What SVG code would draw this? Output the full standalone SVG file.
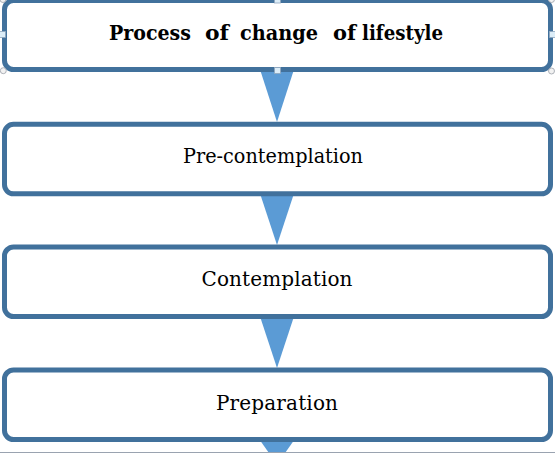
<svg xmlns="http://www.w3.org/2000/svg" width="555" height="455" viewBox="0 0 555 455">
  <style>
    .box { fill: #ffffff; stroke: #41719C; stroke-width: 5; }
    .arrow { fill: #5B9BD5; stroke: none; }
    .label { font-family: "DejaVu Serif", "Liberation Serif", serif; font-size: 20px; fill: #000000; }
    .title { font-family: "DejaVu Serif", "Liberation Serif", serif; font-size: 19.5px; font-weight: bold; fill: #000000; }
    .hsq { fill: #dcedf8; stroke: #8ea6bd; stroke-width: 0.8; }
    .hci { fill: #f2f2f2; stroke: #9aa0a8; stroke-width: 0.8; }
  </style>
  <rect x="0" y="0" width="555" height="455" fill="#ffffff"/>
  <g id="connectors">
    <polygon class="arrow" points="260.5,71 293.5,71 277,122"/>
    <polygon class="arrow" points="260.5,195 293.5,195 277,245"/>
    <polygon class="arrow" points="260.5,318 293.5,318 277,368"/>
    <polygon class="arrow" points="260.5,441 293.5,441 285.4,452.5 268.6,452.5"/>
  </g>
  <g id="node-title">
    <rect class="box" x="4.5" y="0.5" width="546" height="69" rx="9" ry="9"/>
    <text class="title" y="39.8"><tspan x="109" textLength="82" lengthAdjust="spacingAndGlyphs">Process</tspan><tspan x="205" textLength="24" lengthAdjust="spacingAndGlyphs">of</tspan><tspan x="240" textLength="78" lengthAdjust="spacingAndGlyphs">change</tspan><tspan x="333" textLength="23" lengthAdjust="spacingAndGlyphs">of</tspan><tspan x="362" textLength="81" lengthAdjust="spacingAndGlyphs">lifestyle</tspan></text>
  </g>
  <g id="node-precontemplation">
    <rect class="box" x="4.5" y="124.3" width="546" height="69.5" rx="9" ry="9"/>
    <text class="label" x="183" y="162.5" textLength="180" lengthAdjust="spacingAndGlyphs">Pre-contemplation</text>
  </g>
  <g id="node-contemplation">
    <rect class="box" x="4.5" y="247" width="546" height="69.5" rx="9" ry="9"/>
    <text class="label" x="201.5" y="286" textLength="151" lengthAdjust="spacing">Contemplation</text>
  </g>
  <g id="node-preparation">
    <rect class="box" x="4.5" y="370" width="546" height="69.5" rx="9" ry="9"/>
    <text class="label" x="216" y="410" textLength="122" lengthAdjust="spacing">Preparation</text>
  </g>
  <g id="selection-handles">
    <circle class="hci" cx="3" cy="-0.5" r="3"/>
    <circle class="hci" cx="551.5" cy="-0.5" r="3"/>
    <circle class="hci" cx="3.3" cy="70.7" r="3"/>
    <circle class="hci" cx="551.5" cy="71" r="3"/>
    <rect class="hsq" x="274.5" y="-3" width="6" height="6"/>
    <rect class="hsq" x="-0.5" y="31.5" width="6" height="6"/>
    <rect class="hsq" x="549.5" y="31.5" width="6" height="6"/>
    <rect class="hsq" x="274.5" y="67.5" width="6" height="6"/>
  </g>
  <line x1="0" y1="452.5" x2="555" y2="452.5" stroke="#9aa3b0" stroke-width="1"/>
</svg>
